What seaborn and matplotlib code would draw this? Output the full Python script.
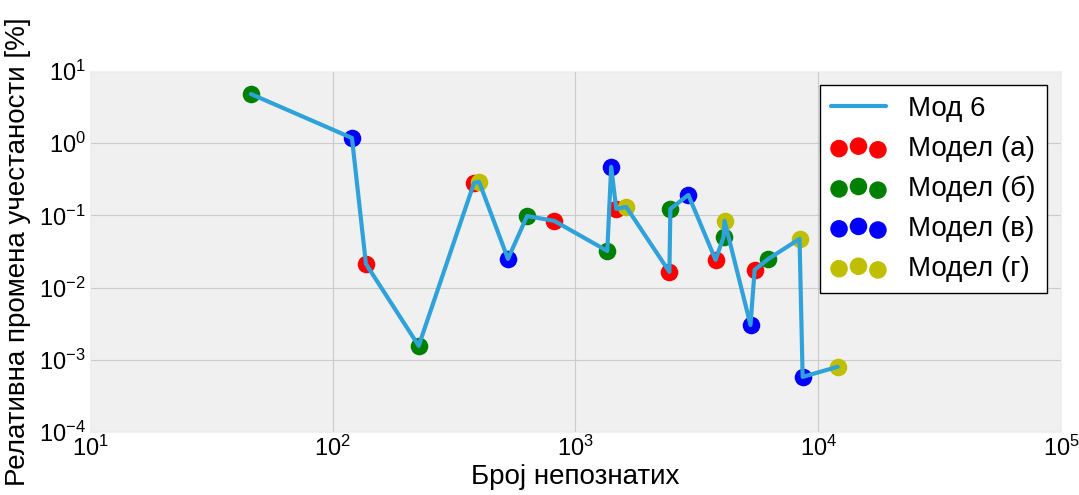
import seaborn as sns
import pandas as pd
import matplotlib.pyplot as plt

# broj nepoznatih i relativna promena, po modelu
unknowns = [46, 120, 137, 226, 382, 401, 527, 632, 817, 1352, 1403, 1472, 1618,
            2437, 2460, 2917, 3776, 4075, 4112, 5260, 5470, 6237, 8375, 8625, 12030]
change = [4.8, 1.18, 0.0213, 0.00156, 0.282, 0.291, 0.025, 0.098, 0.084, 0.0322,
          0.47, 0.123, 0.131, 0.0165, 0.123, 0.192, 0.0242, 0.0504, 0.084, 0.00304,
          0.0176, 0.025, 0.0473, 0.00058, 0.0008]
model = ['б', 'в', 'а', 'б', 'а', 'г', 'в', 'б', 'а', 'б', 'в', 'а', 'г',
         'а', 'б', 'в', 'а', 'б', 'г', 'в', 'а', 'б', 'г', 'в', 'г']

model_names = ['а', 'б', 'в', 'г']
model_colors = ['r', 'g', 'b', 'y']

df = pd.DataFrame({'n': unknowns, 'change': change, 'model': model})

sns.set_style('darkgrid', {'axes.facecolor': '#f0f0f0', 'grid.color': '#cbcbcb',
                           'axes.edgecolor': '#f0f0f0', 'text.color': 'black',
                           'axes.labelcolor': 'black', 'xtick.color': 'black',
                           'ytick.color': 'black'})
plt.rcParams['font.family'] = ['Liberation Sans', 'DejaVu Sans']
plt.rcParams['mathtext.default'] = 'regular'
plt.rcParams['axes.unicode_minus'] = False

fig, ax = plt.subplots(figsize=(10.79, 4.95), dpi=100)
fig.subplots_adjust(left=0.0834, right=0.9833, top=0.8566, bottom=0.1273)

sns.lineplot(data=df, x='n', y='change', estimator=None, color='#30a2da',
             linewidth=3, label='Мод 6', zorder=3, ax=ax)
for name, col in zip(model_names, model_colors):
    sub = df[df['model'] == name]
    sns.scatterplot(data=sub, x='n', y='change', color=col, s=160, linewidth=0,
                    label=f'Модел ({name})', zorder=2, ax=ax)

ax.set_xscale('log')
ax.set_yscale('log')
ax.set_xlim(10, 1e5)
ax.set_ylim(1e-4, 10)
ax.tick_params(labelsize=17, length=0, pad=3)
ax.set_xlabel('Број непознатих', fontsize=20, labelpad=2)
ax.set_ylabel('Релативна промена учестаности [%]', fontsize=20, labelpad=6)

leg = ax.legend(loc='upper right', scatterpoints=3, fontsize=20, frameon=True,
                fancybox=False, borderaxespad=0.5)
leg.get_frame().set_edgecolor('black')
leg.get_frame().set_facecolor('white')
leg.get_frame().set_alpha(1)

plt.savefig('out.png')
